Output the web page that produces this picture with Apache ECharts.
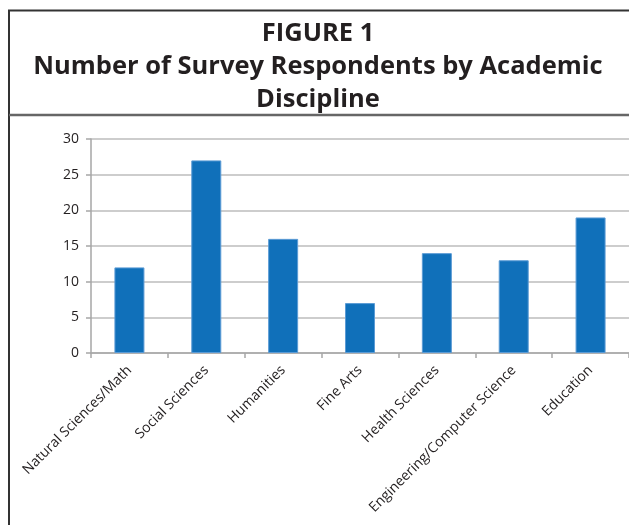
<!DOCTYPE html>
<html>
<head>
<meta charset="utf-8">
<script src="https://cdn.jsdelivr.net/npm/echarts@6/dist/echarts.min.js"></script>
<style>
  html, body { margin: 0; padding: 0; background: #fff; }
  #chart { width: 629px; height: 525px; }
</style>
</head>
<body>
<div id="chart"></div>
<script>
const titleLines = ['FIGURE 1', 'Number of Survey Respondents by Academic', 'Discipline'];
const categories = ['Natural Sciences/Math', 'Social Sciences', 'Humanities', 'Fine Arts', 'Health Sciences', 'Engineering/Computer Science', 'Education'];
const respondents = [12, 27, 16, 7, 14, 13, 19];
const yTicks = [0, 5, 10, 15, 20, 25, 30];

const FONT = '"Open Sans", "Noto Sans", sans-serif';
const chart = echarts.init(document.getElementById('chart'), null, { renderer: 'canvas' });
chart.setOption({
  animation: false,
  backgroundColor: '#fff',
  graphic: [
    { type: 'rect', shape: { x: 9, y: 10.5, width: 700, height: 600 }, style: { fill: 'none', stroke: '#333', lineWidth: 2 }, silent: true },
    { type: 'line', shape: { x1: 9, y1: 115, x2: 629, y2: 115 }, style: { stroke: '#666', lineWidth: 2.5 }, silent: true },
    {
      type: 'text', x: 318, y: 17, silent: true,
      style: {
        text: titleLines.join('\n'),
        align: 'center',
        verticalAlign: 'top',
        fontFamily: FONT,
        fontWeight: 'bold',
        fontSize: 25.5,
        lineHeight: 33,
        fill: '#231f20'
      }
    }
  ],
  grid: { left: 91, right: -1, top: 139, bottom: 172, containLabel: false },
  xAxis: {
    type: 'category',
    data: categories,
    axisLine: { lineStyle: { color: '#a6a6a6', width: 1.5 } },
    axisTick: { show: true, length: 5, lineStyle: { color: '#a6a6a6', width: 1.5 } },
    axisLabel: {
      interval: 0,
      rotate: 45,
      fontFamily: FONT,
      fontSize: 14,
      color: '#231f20',
      margin: 15
    }
  },
  yAxis: {
    type: 'value',
    min: yTicks[0],
    max: yTicks[yTicks.length - 1],
    interval: 5,
    axisLine: { show: true, lineStyle: { color: '#a6a6a6', width: 1.5 } },
    axisTick: { show: true, length: 5, lineStyle: { color: '#a6a6a6', width: 1.5 } },
    splitLine: { lineStyle: { color: '#bdbdbd', width: 1.5 } },
    axisLabel: {
      fontFamily: FONT,
      fontSize: 14,
      color: '#231f20',
      margin: 12
    }
  },
  series: [{
    type: 'bar',
    data: respondents,
    barWidth: 30,
    itemStyle: { color: '#1070ba', borderColor: '#5b9bd5', borderWidth: 1 }
  }]
});
</script>
</body>
</html>
